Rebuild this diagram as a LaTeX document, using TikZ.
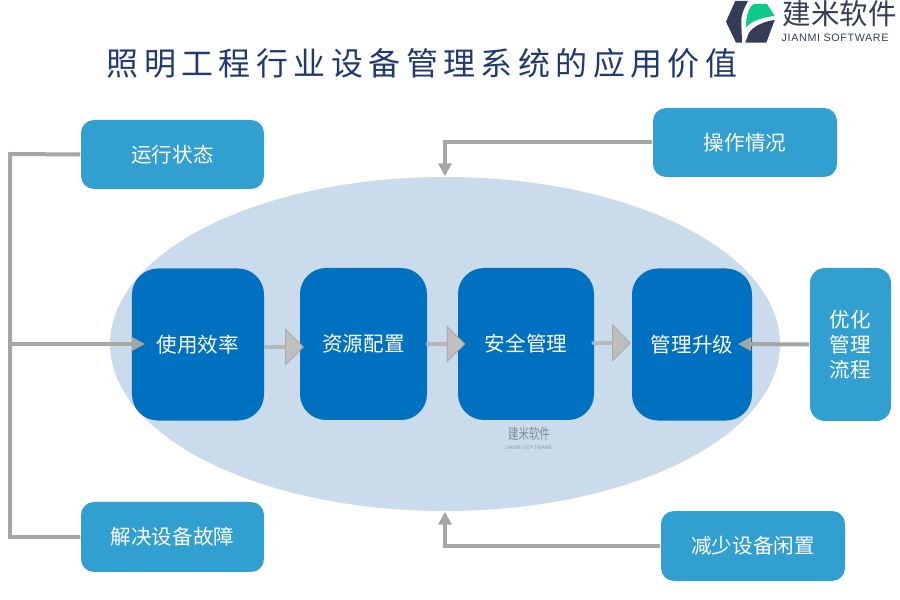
\documentclass[tikz,border=0pt]{standalone}
\usepackage{fontspec}
\setmainfont{Noto Sans CJK SC}
\newfontfamily\titlefont[LetterSpace=17]{Noto Sans CJK SC}
\newfontfamily\logofont[LetterSpace=6]{Liberation Sans}
\usetikzlibrary{arrows.meta,shapes.geometric,shapes.arrows}

\definecolor{oval}{HTML}{CADCEC}
\definecolor{deep}{HTML}{0070C0}
\definecolor{soft}{HTML}{329FD1}
\definecolor{pipegray}{HTML}{A6A6A6}
\definecolor{navy}{HTML}{1F3A70}
\definecolor{logodark}{HTML}{343C58}
\definecolor{logogreen}{HTML}{0CC98C}

\begin{document}
\begin{tikzpicture}[
txt/.style={text=white,font=\fontsize{5.85}{7.1}\selectfont,align=center,inner sep=0},
core/.style={txt,rectangle,rounded corners=0.26cm,fill=deep,minimum height=1.52cm},
side/.style={txt,rectangle,rounded corners=0.13cm,fill=soft,minimum width=1.83cm,minimum height=0.69cm},
pipe/.style={draw=pipegray,line width=0.04cm},
tip/.style={pipe,-{Triangle[length=0.13cm,width=0.13cm]}},
block/.style={single arrow,draw=black!33,fill=black!25,line width=0.01cm,inner sep=0,
  minimum height=0.38cm,minimum width=0.35cm,single arrow head extend=0.075cm,single arrow head indent=0cm},
dark/.style={fill=logodark},
leaf/.style={fill=logogreen},
pics/logomark/.style={code={
  \fill[dark] (7.353,5.99) -- (7.48,5.99) .. controls (7.43,5.90) and (7.41,5.84) .. (7.413,5.78)
    -- (7.42,5.573) -- (7.36,5.573) -- (7.26,5.783) -- cycle;
  \fill[leaf] (7.46,5.727) .. controls (7.46,5.85) and (7.49,5.93) .. (7.537,5.96)
    -- (7.67,5.96) -- (7.747,5.84) .. controls (7.65,5.83) and (7.52,5.80) .. (7.46,5.727) -- cycle;
  \fill[dark] (7.453,5.573) -- (7.487,5.667) .. controls (7.53,5.74) and (7.65,5.79) .. (7.747,5.80)
    -- (7.663,5.573) -- cycle;
}}]

\useasboundingbox (0,0) rectangle (9,6);

% Oval
\node[ellipse,fill=oval,minimum width=6.7cm,minimum height=3.34cm,inner sep=0] (oval) at (4.45,2.56) {};

% Title
\node[text=navy,font=\fontsize{9.1}{11}\titlefont,anchor=west,inner sep=0] (title) at (1.06,5.37) {照明工程行业设备管理系统的应用价值};

% Logo
\pic {logomark};
\node[text=logodark,font=\fontsize{8.1}{10}\selectfont,anchor=west,inner sep=0] (logoname) at (7.82,5.86) {建米软件};
\node[text=logodark,font=\fontsize{3.05}{4}\logofont,anchor=west,inner sep=0] (logoeng) at (7.81,5.62) {JIANMI SOFTWARE};

% Watermark
\begin{scope}[opacity=0.45,shift={(4.9,2.75)},xscale=0.35,yscale=0.63,shift={(-7.26,-5.573)}]
\pic {logomark};
\end{scope}
\node[text=logodark,opacity=0.5,font=\fontsize{4.25}{5}\selectfont,xscale=0.7,inner sep=0] (markname) at (5.29,1.66) {建米软件};
\node[text=logodark,opacity=0.45,font=\fontsize{1.5}{2}\logofont,xscale=0.9,inner sep=0] (markeng) at (5.285,1.52) {JIANMI SOFTWARE};

% Core boxes
\node[core,minimum width=1.32cm] (usage) at (1.98,2.555) {使用效率};
\node[core,minimum width=1.27cm] (resource) at (3.635,2.56) {资源配置};
\node[core,minimum width=1.36cm] (safety) at (5.26,2.56) {安全管理};
\node[core,minimum width=1.20cm] (upgrade) at (6.92,2.555) {管理升级};

% Block arrows
\node[block] (flowA) at (2.835,2.53) {};
\node[block] (flowB) at (4.45,2.56) {};
\node[block] (flowC) at (6.105,2.57) {};

% Side boxes
\node[side] (status) at (1.725,4.455) {运行状态};
\node[side,minimum width=1.84cm] (operate) at (7.45,4.575) {操作情况};
\node[side,rounded corners=0.15cm,minimum width=0.81cm,minimum height=1.53cm] (optimize) at (8.505,2.555) {优化\\管理\\流程};
\node[side,minimum height=0.70cm] (solve) at (1.725,0.63) {解决设备故障};
\node[side,minimum width=1.84cm,minimum height=0.70cm] (reduce) at (7.53,0.54) {减少设备闲置};

% Arrows
\coordinate (busTop) at (0.10,4.46);
\coordinate (busMid) at (0.10,2.56);
\coordinate (busLow) at (0.10,0.63);
\coordinate (usageTip) at (1.45,2.56);
\coordinate (upgradeTip) at (7.38,2.56);
\draw[pipe] (status.west) -- (busTop) -- (busLow) -- (solve.west);
\draw[tip] (busMid) -- (usageTip);
\draw[tip] (operate.west) -| (oval.north);
\draw[tip] (reduce.west) -| (oval.south);
\draw[tip] (optimize.west) -- (upgradeTip);

\end{tikzpicture}
\end{document}
